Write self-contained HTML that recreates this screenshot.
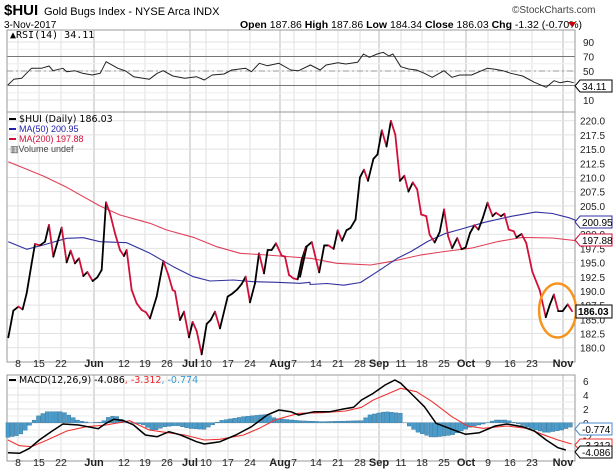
<!DOCTYPE html>
<html><head><meta charset="utf-8"><style>
body{margin:0;background:#fff;width:613px;height:473px;overflow:hidden;font-family:"Liberation Sans",sans-serif}
svg{position:absolute;left:0;top:0}
</style></head><body>
<svg id="s" width="613" height="473" xmlns="http://www.w3.org/2000/svg" font-family="Liberation Sans, sans-serif">
<rect width="613" height="473" fill="#fff"/>
<g id="grid"></g>
<g id="series"></g>
<text x="4" y="15" font-size="15" font-weight="bold">$HUI</text>
<text x="44" y="15" font-size="11">Gold Bugs Index - NYSE Arca  INDX</text>
<text x="512" y="13" font-size="10" fill="#444">©StockCharts.com</text>
<text x="4" y="28" font-size="10">3-Nov-2017</text>
<text x="240" y="28" font-size="10.5"><tspan font-weight="bold">Open</tspan> 187.86 <tspan font-weight="bold">High</tspan> 187.86 <tspan font-weight="bold">Low</tspan> 184.34 <tspan font-weight="bold">Close</tspan> 186.03 <tspan font-weight="bold">Chg</tspan> -1.32 (-0.70%)</text>
<polygon points="568,22 576,22 572,27" fill="#c00"/>
<text x="10" y="38" font-size="10" font-family="DejaVu Sans Mono, monospace">▲RSI(14) 34.11</text>
<line x1="9" y1="119" x2="16" y2="119" stroke="#000" stroke-width="2"/>
<text x="19" y="122" font-size="9.5" font-family="DejaVu Sans, sans-serif">$HUI (Daily) 186.03</text>
<line x1="9" y1="129" x2="16" y2="129" stroke="#2222aa" stroke-width="2"/>
<text x="19" y="132" font-size="9" fill="#2222aa">MA(50) 200.95</text>
<line x1="9" y1="139" x2="16" y2="139" stroke="#d0103a" stroke-width="2"/>
<text x="19" y="142" font-size="9" fill="#d0103a">MA(200) 197.88</text>
<text x="10" y="152" font-size="9" fill="#444">▥Volume undef</text>
<line x1="9" y1="380" x2="16" y2="380" stroke="#000" stroke-width="2"/>
<text x="19" y="383" font-size="9.5" font-family="DejaVu Sans, sans-serif">MACD(12,26,9) -4.086<tspan fill="#e22">, -3.312</tspan><tspan fill="#3a9ad0">, -0.774</tspan></text>
</svg>
<script>
var NS="http://www.w3.org/2000/svg",G=document.getElementById('grid'),S=document.getElementById('series');
function el(p,t,a){var e=document.createElementNS(NS,t);for(var k in a)e.setAttribute(k,a[k]);p.appendChild(e);return e}
function txt(p,x,y,s,a){var e=el(p,'text',a);e.setAttribute('x',x);e.setAttribute('y',y);e.textContent=s;return e}
var L=7,R=575;
// panels
var panels=[[30,112],[112,362],[375,461]];
// vertical grid
var vx=[[18,'8',0],[39,'15',0],[61,'22',0],[94,'Jun',1],[124,'12',0],[145,'19',0],[167,'26',0],[190,'Jul',1],[206,'10',0],[228,'17',0],[250,'24',0],[280,'Aug',1],[294,'7',0],[316,'14',0],[338,'21',0],[360,'28',0],[379,'Sep',1],[401,'11',0],[422,'18',0],[444,'25',0],[466,'Oct',1],[488,'9',0],[510,'16',0],[532,'23',0],[563,'Nov',1]];
panels.forEach(function(p){vx.forEach(function(v){el(G,'line',{x1:v[0],x2:v[0],y1:p[0],y2:p[1],stroke:v[2]?'#bbb':'#e2e2e2','stroke-width':1})})});
// horizontal grid price
function py(v){return 120.7+(220-v)*5.675}
for(var v=180;v<=220;v+=2.5){var y=py(v);el(G,'line',{x1:L,x2:R,y1:y,y2:y,stroke:'#e2e2e2'});txt(G,580,y+4,v.toFixed(1),{'font-size':10,fill:'#222'})}
function ry(v){return 100-(v-10)*0.725}
[10,30,50,70,90].forEach(function(v){el(G,'line',{x1:L,x2:R,y1:ry(v),y2:ry(v),stroke:'#e2e2e2'});if(v!=30)txt(G,583,ry(v)+4,''+v,{'font-size':10,fill:'#222'})});
[20,40,60,80].forEach(function(v){el(G,'line',{x1:L,x2:R,y1:ry(v),y2:ry(v),stroke:'#eee'})});
el(G,'line',{x1:L,x2:R,y1:ry(70),y2:ry(70),stroke:'#777'});el(G,'line',{x1:L,x2:R,y1:ry(30),y2:ry(30),stroke:'#777'});
el(G,'line',{x1:L,x2:R,y1:ry(50),y2:ry(50),stroke:'#999','stroke-dasharray':'6,3,2,3'});
function my(v){return 423-v*7}
[-4,-2,0,2,4,6].forEach(function(v){el(G,'line',{x1:L,x2:R,y1:my(v),y2:my(v),stroke:'#e2e2e2'});txt(G,583,my(v)+4,''+v,{'font-size':10,fill:'#222'})});
for(var v=-3;v<=5;v+=2)el(G,'line',{x1:L,x2:R,y1:my(v),y2:my(v),stroke:'#eee'});
panels.forEach(function(p){el(G,'rect',{x:L,y:p[0],width:R-L,height:p[1]-p[0],fill:'none',stroke:'#999'})});
[367,466].forEach(function(y){vx.forEach(function(v){txt(G,v[0],y,v[1],{'font-size':v[2]?11:10.5,'font-weight':v[2]?'bold':'normal','text-anchor':'middle',fill:'#222'})})});
// helpers
function tr(pts,ox,oy,sx,sy){var o=[];for(var i=0;i<pts.length;i+=2)o.push([ox+pts[i]/sx,oy+pts[i+1]/sy]);return o}
function poly(p,c,w){el(S,'polyline',{points:p.map(function(a){return a[0].toFixed(1)+','+a[1].toFixed(1)}).join(' '),fill:'none',stroke:c,'stroke-width':w,'stroke-linejoin':'round'})}
// RSI
var rsi=[20,255,35,238,55,235,80,205,105,205,125,198,135,212,160,205,170,215,190,212,210,220,235,225,255,220,270,185,300,205,320,213,340,230,380,238,400,220,415,212,440,228,470,235,500,230,520,240,540,225,570,222,590,210,625,205,640,215,660,190,680,197,710,190,740,210,760,212,790,195,815,210,830,195,860,188,880,192,910,187,925,162,940,172,960,162,975,157,990,168,1000,162,1020,200,1040,207,1060,210,1080,220,1100,232,1130,212,1150,232,1170,225,1200,225,1240,205,1260,208,1280,212,1300,220,1330,228,1360,247,1390,262,1410,242,1425,248,1445,244,1460,248];
poly(tr(rsi,0,0,2.545,3),'#222',1);
// MAs
var ma50=tr([25,425,80,448,130,435,200,415,250,413,300,425,380,428,450,460,520,500,580,530,630,543,700,540,760,545,830,547,900,550,930,547],0,100,3,3).concat(tr([0,548,50,545,100,550,150,542,200,510,260,470,300,450,350,420,400,397,450,383,520,363,600,345,670,333,720,337,770,350,810,366],310,100,2.97,2.97));
var ma200=tr([25,185,130,228,200,262,300,318,360,345,450,370,500,390,580,412,650,440,720,460,800,465,930,475],0,100,3,3).concat(tr([0,470,80,485,180,490,250,478,330,460,400,450,480,440,560,420,630,408,720,410,810,420],310,100,2.97,2.97));
poly(ma200,'#e0405a',1.1);poly(ma50,'#3030a0',1.1);
// price
var p1=tr([25,712,40,632,55,620,68,628,80,580,95,490,105,432,120,436,135,425,147,375,160,470,185,383,200,487,212,452,225,490,237,475,250,528,262,516,278,543,292,532,305,510,318,307,330,340,345,400,360,450,372,468,380,450,395,570,410,610,425,630,438,637,450,655,470,590,490,483,505,525,518,570,525,574,540,660,552,635,567,712,578,666,590,693,605,763,620,672,632,660,645,635,660,685,683,590,698,580,712,568,725,552,737,530,750,607,765,550,777,460,792,520,803,450,815,450,828,430,845,467,855,470,867,525,880,535,893,538,905,480,918,440],0,100,3,3);
var p2=tr([0,525,20,435,35,422,57,512,72,432,85,432,100,442,112,387,125,418,138,387,150,380,165,355,178,230,190,207,202,240,218,175,230,162,243,90,257,138,270,62,283,103,297,240,310,225,322,272,335,245,348,265,360,340,375,345,385,400,400,423,415,392,428,325,440,405,452,440,467,410,480,443,492,438,505,395,518,372,530,385,543,350,557,305,572,345,582,335,597,345,607,338,620,385,635,390,643,408,658,398,672,425,690,510,712,565,730,645,742,608,754,578,767,627,780,627,795,607,808,627],300,100,2.97,2.97);
var pr=p1.concat(p2);
for(var i=1;i<pr.length;i++){var a=pr[i-1],b=pr[i];el(S,'line',{x1:a[0],y1:a[1],x2:b[0],y2:b[1],stroke:b[1]>a[1]?'#d0103a':'#000','stroke-width':1.8,'stroke-linecap':'round'})}
el(S,'ellipse',{cx:300+765/2.97,cy:100+625/2.97,rx:18.5,ry:27,fill:'none',stroke:'#f7941d','stroke-width':2.5});
// MACD histogram
var hk=[20,412,50,405,70,385,80,368,100,345,120,335,160,335,200,362,230,368,260,366,280,348,300,350,320,368,360,372,390,392,420,380,450,376,480,385,520,388,545,372,560,362,620,350,680,343,700,355,760,362,820,365,920,362,940,345,980,335,1020,340,1030,368,1060,395,1100,412,1150,405,1200,380,1230,372,1260,360,1290,360,1310,368,1350,385,1390,398,1430,390,1460,378];
function hv(x){for(var i=2;i<hk.length;i+=2){if(x<=hk[i]){var t=(x-hk[i-2])/(hk[i]-hk[i-2]);return hk[i-1]+t*(hk[i+1]-hk[i-1])}}return hk[hk.length-1]}
var zy=300+368/3;
for(var x=20;x<=1462;x+=11.1){var y=300+hv(x)/3,X=x/2.545;el(S,'rect',{x:X-1.9,y:Math.min(y,zy),width:3.8,height:Math.abs(y-zy)+0.01,fill:'#4a9bc9',stroke:'#2a6f99','stroke-width':0.4})}
var mr=[20,420,50,437,80,440,120,420,170,393,220,380,270,375,330,362,380,390,420,397,470,405,520,420,560,418,620,405,660,385,700,360,760,340,820,338,880,333,920,322,950,300,980,285,1020,265,1060,275,1100,305,1150,350,1190,378,1230,385,1290,378,1340,385,1380,403,1420,420,1455,432];
var mb=[20,458,50,460,75,445,100,420,130,395,160,372,200,375,250,386,270,370,290,358,315,362,340,375,370,405,400,410,430,395,460,405,500,425,520,432,560,425,600,405,640,380,680,345,710,330,740,335,760,345,800,335,840,335,870,328,900,322,920,300,950,280,980,255,1005,240,1020,250,1050,285,1080,320,1110,370,1150,388,1185,403,1220,398,1260,378,1290,372,1330,380,1360,393,1390,420,1420,443,1440,450];
poly(tr(mr,0,300,2.545,3),'#ee3333',1.1);poly(tr(mb,0,300,2.545,3),'#000',1.5);
// value tags
function tag(y,t,c,fill,tc){el(S,'polygon',{points:'575,'+y+' 580,'+(y-6)+' 612,'+(y-6)+' 612,'+(y+6)+' 580,'+(y+6),fill:fill||'#fff',stroke:c});txt(S,582,y+4,t,{'font-size':10,fill:tc||'#000'})}
tag(86,'34.11','#000');tag(222,'200.95','#3030a0');tag(240,'197.88','#d0103a');
tag(429,'-0.774','#4a8bd0');tag(445,'-3.312','#ee3333');tag(452,'-4.086','#000');
el(S,'rect',{x:576,y:305,width:36,height:13,fill:'#fff',stroke:'#000'});txt(S,578,315,'186.03',{'font-size':10,'font-weight':'bold'});
</script>
</body></html>
